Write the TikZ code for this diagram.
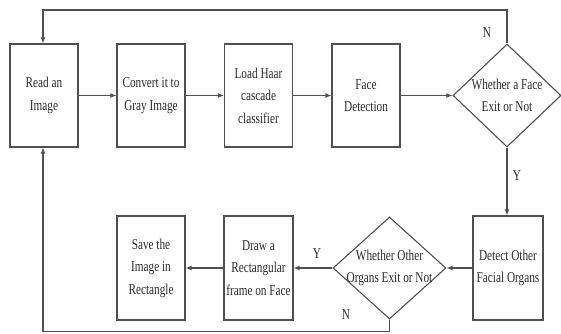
\documentclass[tikz,border=0pt]{standalone}
\usepackage{fontspec}
\setmainfont{Liberation Serif}[FakeStretch=0.75]
\usetikzlibrary{shapes.geometric,arrows.meta}
\definecolor{linegray}{HTML}{505050}
\definecolor{textgray}{HTML}{2A2A2A}
\tikzset{
  box/.style={draw=linegray, line width=1.1pt, minimum width=68, minimum height=103, inner sep=0pt, align=center, font=\fontsize{15}{22.5}\selectfont, text=textgray},
  dia/.style={draw=linegray, line width=1.1pt, diamond, inner sep=0pt},
  dtext/.style={align=center, font=\fontsize{15}{22.5}\selectfont, text=textgray},
  lbl/.style={font=\fontsize{15}{18}\selectfont, text=textgray},
  conn/.style={draw=linegray, line width=1.1pt, -{Latex[length=6pt,width=5pt]}},
  plain/.style={draw=linegray, line width=1.1pt}
}
\begin{document}
\begin{tikzpicture}[x=1pt,y=-1pt]
\useasboundingbox (0,0) rectangle (561,333);
\node[box] (read) at (44,95.5) {Read an\\Image};
\node[box] (conv) at (151,95.5) {Convert it to\\Gray Image};
\node[box] (haar) at (258.5,95.5) {Load Haar\\cascade\\classifier};
\node[box] (face) at (366,95.5) {Face\\Detection};
\node[dia, minimum width=108, minimum height=103] (d1) at (507,95.5) {};
\node[dtext] (d1t) at (d1.center) {Whether a Face\\Exit or Not};
\node[box, minimum width=70, minimum height=104] (detect) at (508,268) {Detect Other\\Facial Organs};
\node[dia, minimum width=113, minimum height=102] (d2) at (389.5,268) {};
\node[dtext] (d2t) at (d2.center) {Whether Other\\Organs Exit or Not};
\node[box, minimum width=69, minimum height=104] (draw) at (258.5,268) {Draw a\\Rectangular\\frame on Face};
\node[box, minimum height=104] (save) at (151,268) {Save the\\Image in\\Rectangle};
\coordinate (t1) at (507,10);
\coordinate (t2) at (43,10);
\coordinate (b1) at (389.5,331.5);
\coordinate (b2) at (43,331.5);
\draw[conn] (read) -- (conv);
\draw[conn] (conv) -- (haar);
\draw[conn] (haar) -- (face);
\draw[conn] (face) -- (d1.west);
\draw[conn] (d1.north) -- (t1) -- (t2) -- (t2 |- read.north);
\draw[conn] (d1.south) -- (d1.south |- detect.north);
\draw[conn] (detect.west) -- (d2.east);
\draw[conn] (d2.west) -- (draw.east);
\draw[conn] (draw.west) -- (save.east);
\draw[conn] (d2.south) -- (b1) -- (b2) -- (b2 |- read.south);
\node[lbl] (n1) at (487,33) {N};
\node[lbl] (y1) at (517,176) {Y};
\node[lbl] (y2) at (317,254) {Y};
\node[lbl] (n2) at (346,315) {N};
\end{tikzpicture}
\end{document}
